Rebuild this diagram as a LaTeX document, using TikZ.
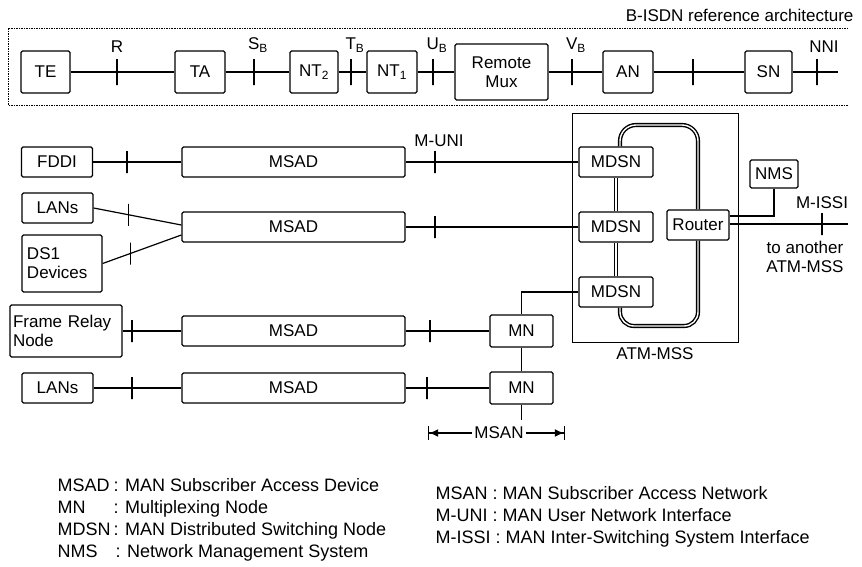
\documentclass[tikz,border=0pt]{standalone}
\usepackage{fontspec}
\setmainfont{Liberation Sans}
\usetikzlibrary{positioning,arrows.meta}

\begin{document}
\begin{tikzpicture}[x=1pt, y=-1pt,
  every node/.style={font=\fontsize{17}{19}\selectfont},
  unitbox/.style={rectangle, draw, line width=1.3pt, rounded corners=1.5pt,
    inner sep=1pt, minimum height=30pt},
  topbox/.style={unitbox, minimum height=42pt},
  msadbox/.style={unitbox, minimum width=223pt},
  tk/.style={draw, line width=1.2pt, inner sep=0pt, outer sep=0pt,
    minimum width=0pt, minimum height=22pt},
  tkhi/.style={tk, minimum height=26pt},
  link/.style={line width=1.2pt},
  ring/.style={double=white, double distance=1.4pt, line width=1.4pt},
  bframe/.style={line width=0.8pt, dash pattern=on 1.5pt off 1pt},
  legend/.style={anchor=base west, font=\fontsize{18}{20}\selectfont},
  msanarr/.style={link, -{Latex[length=9pt,width=8pt] Bar[width=14pt]}},
]
\useasboundingbox (0,0) rectangle (862,566);

% Rows
\def\ytop{72}
\def\rowA{162}
\def\rowB{227}
\def\rowC{331}
\def\rowD{388}

% ============================================================
% B-ISDN reference architecture
% ============================================================
\node[anchor=east] (title) at (857,15) {B-ISDN reference architecture};
\draw[bframe] (848,28) -- (8,28) -- (8,105) -- (848,105);

\node[topbox, minimum width=49pt] (te)  at (45.5,\ytop) {TE};
\node[tkhi] (r)   at (117,\ytop) {};
\node[topbox, minimum width=50pt] (ta)  at (200,\ytop) {TA};
\node[tkhi] (sb)  at (254,\ytop) {};
\node[topbox, minimum width=48pt] (nt2) at (314,\ytop) {NT\textsubscript{2}};
\node[tkhi] (tb)  at (351,\ytop) {};
\node[topbox, minimum width=50pt] (nt1) at (392,\ytop) {NT\textsubscript{1}};
\node[tkhi] (ub)  at (433,\ytop) {};
\node[topbox, minimum width=93pt, minimum height=56pt, align=center] (rmux)
  at (501.5,\ytop) {Remote\\Mux};
\node[tkhi] (vb)  at (572,\ytop) {};
\node[topbox, minimum width=50pt] (an)  at (628,\ytop) {AN};
\node[tkhi] (tan) at (693,\ytop) {};
\node[topbox, minimum width=47pt] (sn)  at (768.5,\ytop) {SN};
\node[tkhi] (nni) at (817,\ytop) {};
\coordinate (nniend) at (838,\ytop);

\node[above=3pt of r] (rlab) {R};
\node[above=3pt of sb, xshift=4pt] (sblab) {S\textsubscript{B}};
\node[above=3pt of tb, xshift=4pt] (tblab) {T\textsubscript{B}};
\node[above=3pt of ub, xshift=4pt] (ublab) {U\textsubscript{B}};
\node[above=3pt of vb, xshift=4pt] (vblab) {V\textsubscript{B}};
\node[above=3pt of nni, xshift=7pt] (nnilab) {NNI};

\draw[link] (te) -- (r) -- (ta) -- (sb) -- (nt2) -- (tb) -- (nt1) -- (ub)
  -- (rmux) -- (vb) -- (an) -- (tan) -- (sn) -- (nni) -- (nniend);

% ============================================================
% ATM-MSS
% ============================================================
\node[draw, line width=0.9pt, minimum width=166pt, minimum height=229pt] (mss)
  at (655,227.5) {};
\node[below=2pt of mss] (msslab) {ATM-MSS};

\node[unitbox, minimum width=74pt] (mdsn1) at (616,\rowA) {MDSN};
\node[unitbox, minimum width=74pt] (mdsn2) at (616,\rowB) {MDSN};
\node[unitbox, minimum width=74pt] (mdsn3) at (616,292) {MDSN};
\node[unitbox, minimum width=62pt] (router) at (698,225) {Router};

\coordinate (ringtop) at (698,125);
\coordinate (ringbot) at (620,326);
\draw[ring, rounded corners=16pt] ([xshift=4pt]mdsn1.north) |- (ringtop) -- (router.north);
\draw[ring, rounded corners=14pt] (router.south) |- (ringbot) -- ([xshift=4pt]mdsn3.south);
\draw[ring] (mdsn1) -- (mdsn2);
\draw[ring] (mdsn2) -- (mdsn3);

\node[unitbox, minimum width=48pt, minimum height=28pt] (nms) at (774,174) {NMS};
\draw[link] ([yshift=9pt]router.east) -| (nms.south);

\node[tk] (issi) at (822,224) {};
\coordinate (issiend) at (848,224);
\draw[link] ([yshift=1pt]router.east) -- (issi) -- (issiend);
\node[above=1pt of issi] (issilab) {M-ISSI};
\node[align=center] (another) at (805,257) {to another\\ATM-MSS};

% ============================================================
% Subscriber side
% ============================================================
% Row A: FDDI
\node[unitbox, minimum width=71pt] (fddi) at (57,\rowA) {FDDI};
\node[tk] (fa) at (127,\rowA) {};
\node[msadbox] (msad1) at (293.5,\rowA) {MSAD};
\node[tk] (muni) at (435,\rowA) {};
\node[above=1pt of muni, xshift=4pt] (munilab) {M-UNI};
\draw[link] (fddi) -- (fa) -- (msad1) -- (muni) -- (mdsn1);

% Row B: LANs and DS1 devices
\node[unitbox, minimum width=71pt] (lans1) at (57.5,208) {LANs};
\node[unitbox, minimum width=80pt, minimum height=57pt, align=left,
  text width=70pt, inner xsep=5pt] (ds1) at (62,263.5) {DS1\\Devices};
\node[msadbox] (msad2) at (293.5,\rowB) {MSAD};
\node[tk] (mb) at (435,\rowB) {};
\draw[link] (lans1.east) -- node[tk, pos=.4] {} ([yshift=2pt]msad2.west);
\draw[link] (ds1.east) -- node[tk, pos=.35] {} ([yshift=-8pt]msad2.west);
\draw[link] (msad2) -- (mb) -- (mdsn2);

% Row C: Frame relay
\node[unitbox, minimum width=112pt, minimum height=52pt, align=left,
  text width=106pt, inner xsep=2pt] (frn) at (66,\rowC) {Frame Relay\\Node};
\node[tk] (fc) at (132,\rowC) {};
\node[msadbox] (msad3) at (293.5,\rowC) {MSAD};
\node[tk] (mc) at (430,\rowC) {};
\node[unitbox, minimum width=63pt, minimum height=32pt] (mn1) at (521.5,\rowC) {MN};
\draw[link] (frn) -- (fc) -- (msad3) -- (mc) -- (mn1);

% Row D: LANs
\node[unitbox, minimum width=71pt] (lans2) at (57.5,\rowD) {LANs};
\node[tk] (fd) at (132,\rowD) {};
\node[msadbox] (msad4) at (293.5,\rowD) {MSAD};
\node[tk] (md) at (427,\rowD) {};
\node[unitbox, minimum width=63pt, minimum height=32pt] (mn2) at (521.5,\rowD) {MN};
\coordinate (mnend) at (521.5,420);
\draw[link] (lans2) -- (fd) -- (msad4) -- (md) -- (mn2);

\draw[link] (mdsn3.west) -| (mn1.north);
\draw[link] (mn1) -- (mn2);
\draw[link] (mn2) -- (mnend);

% MSAN span
\node[inner sep=2pt] (msan) at (499,433) {MSAN};
\coordinate (msanl) at (428,433);
\coordinate (msanr) at (565,433);
\draw[msanarr] (msan.west) -- (msanl);
\draw[msanarr] (msan.east) -- (msanr);

% ============================================================
% Legend
% ============================================================
\node[legend] (ab1) at (54,491) {MSAD};
\node[legend] (de1) at (110,491) {: MAN Subscriber Access Device};
\node[legend] (ab2) at (54,513) {MN};
\node[legend] (de2) at (110,513) {: Multiplexing Node};
\node[legend] (ab3) at (54,535) {MDSN};
\node[legend] (de3) at (110,535) {: MAN Distributed Switching Node};
\node[legend] (ab4) at (54,557) {NMS};
\node[legend] (de4) at (112,557) {: Network Management System};

\node[legend] (lr1) at (432,499) {MSAN : MAN Subscriber Access Network};
\node[legend] (lr2) at (432,521) {M-UNI : MAN User Network Interface};
\node[legend] (lr3) at (432,543) {M-ISSI : MAN Inter-Switching System Interface};

\end{tikzpicture}
\end{document}
